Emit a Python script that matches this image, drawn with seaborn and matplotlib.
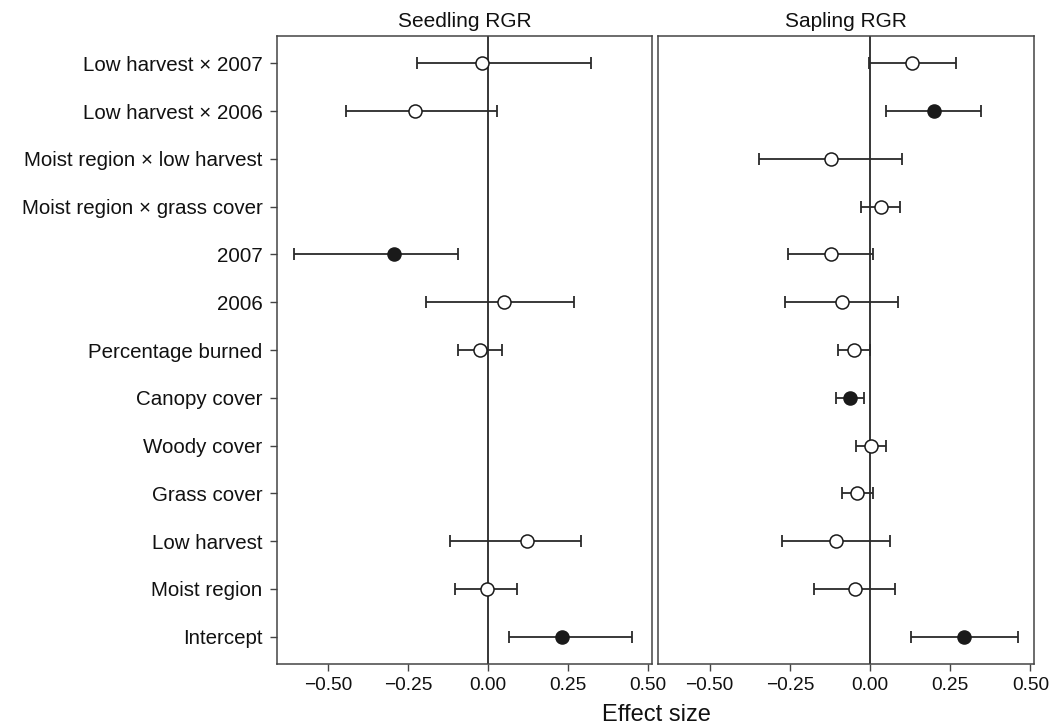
import numpy as np
import pandas as pd
import matplotlib
matplotlib.use('Agg')
import matplotlib.pyplot as plt
import seaborn as sns

# Terimler (ustten alta)
terms = ['Low harvest \u00d7 2007', 'Low harvest \u00d7 2006', 'Moist region \u00d7 low harvest',
         'Moist region \u00d7 grass cover', '2007', '2006', 'Percentage burned',
         'Canopy cover', 'Woody cover', 'Grass cover', 'Low harvest', 'Moist region',
         'Intercept']

# Seedling RGR (None = tahmin yok)
seed_est = [-0.018, -0.230, None, None, -0.295, 0.049, -0.025, None, None, None, 0.121, -0.004, 0.230]
seed_lo = [-0.222, -0.444, None, None, -0.608, -0.194, -0.093, None, None, None, -0.120, -0.104, 0.065]
seed_hi = [0.320, 0.029, None, None, -0.094, 0.267, 0.044, None, None, None, 0.289, 0.089, 0.449]
seed_sig = [0, 0, 0, 0, 1, 0, 0, 0, 0, 0, 0, 0, 1]

# Sapling RGR
sap_est = [0.132, 0.199, -0.123, 0.033, -0.122, -0.088, -0.050, -0.063, 0.004, -0.040, -0.105, -0.048, 0.294]
sap_lo = [-0.004, 0.051, -0.347, -0.027, -0.255, -0.264, -0.101, -0.106, -0.043, -0.088, -0.273, -0.176, 0.129]
sap_hi = [0.267, 0.347, 0.099, 0.093, 0.009, 0.088, -0.001, -0.018, 0.049, 0.008, 0.062, 0.079, 0.460]
sap_sig = [0, 1, 0, 0, 0, 0, 0, 1, 0, 0, 0, 0, 1]

panels = [('Seedling RGR', seed_est, seed_lo, seed_hi, seed_sig),
          ('Sapling RGR', sap_est, sap_lo, sap_hi, sap_sig)]

sns.set_theme(style='white')
plt.rcParams['font.family'] = ['Liberation Sans', 'DejaVu Sans']
plt.rcParams['text.color'] = '#111111'
plt.rcParams['xtick.labelcolor'] = '#111111'
plt.rcParams['ytick.labelcolor'] = '#111111'

fig = plt.figure(figsize=(10.54, 7.26), dpi=100)
ax1 = fig.add_axes([0.2628, 0.085, 0.3558, 0.8658])
ax2 = fig.add_axes([0.6246, 0.085, 0.3567, 0.8658], sharey=ax1)
axes = [ax1, ax2]

for ax, (title, est, lo, hi, sig) in zip(axes, panels):
    df = pd.DataFrame({'term': terms, 'pos': np.arange(len(terms)),
                       'est': est, 'lo': lo, 'hi': hi, 'sig': sig}).dropna()
    df = df.astype({'est': float, 'lo': float, 'hi': float})

    ax.axvline(0, color='black', lw=1.1, zorder=1)
    ax.errorbar(df['est'], df['pos'],
                xerr=[df['est'] - df['lo'], df['hi'] - df['est']],
                fmt='none', ecolor='#2a2a2a', elinewidth=1.3, capsize=4, capthick=1.3, zorder=2)
    acik = df[df['sig'] == 0]
    dolu = df[df['sig'] == 1]
    sns.scatterplot(data=acik, x='est', y='pos', ax=ax, s=88, marker='o',
                    facecolor='white', edgecolor='#1a1a1a', linewidth=1.1, zorder=3)
    sns.scatterplot(data=dolu, x='est', y='pos', ax=ax, s=88, marker='o',
                    color='#1a1a1a', edgecolor='#1a1a1a', linewidth=1.1, zorder=3)

    ax.set_xlim(-0.66, 0.512)
    ax.set_xticks([-0.5, -0.25, 0, 0.25, 0.5])
    ax.set_xticklabels(['\u22120.50', '\u22120.25', '0.00', '0.25', '0.50'])
    ax.set_xlabel('')
    ax.set_ylabel('')
    ax.set_title(title, fontsize=15, pad=6, color='#111111')
    for sp in ax.spines.values():
        sp.set_color('#444444')
        sp.set_linewidth(1.1)
    ax.tick_params(axis='x', direction='out', length=5, width=1, color='#444444',
                   labelsize=13.8, pad=4, bottom=True)

ax1.set_ylim(12.58, -0.58)
ax1.set_yticks(np.arange(len(terms)))
ax1.set_yticklabels(terms)
ax1.tick_params(axis='y', direction='out', length=5, width=1, color='#444444',
                labelsize=14.8, pad=5.5, left=True)
ax2.tick_params(axis='y', left=False, labelleft=False)

fig.text(0.623, 0.015, 'Effect size', ha='center', va='center', fontsize=17)

fig.savefig('out.png', dpi=100)
